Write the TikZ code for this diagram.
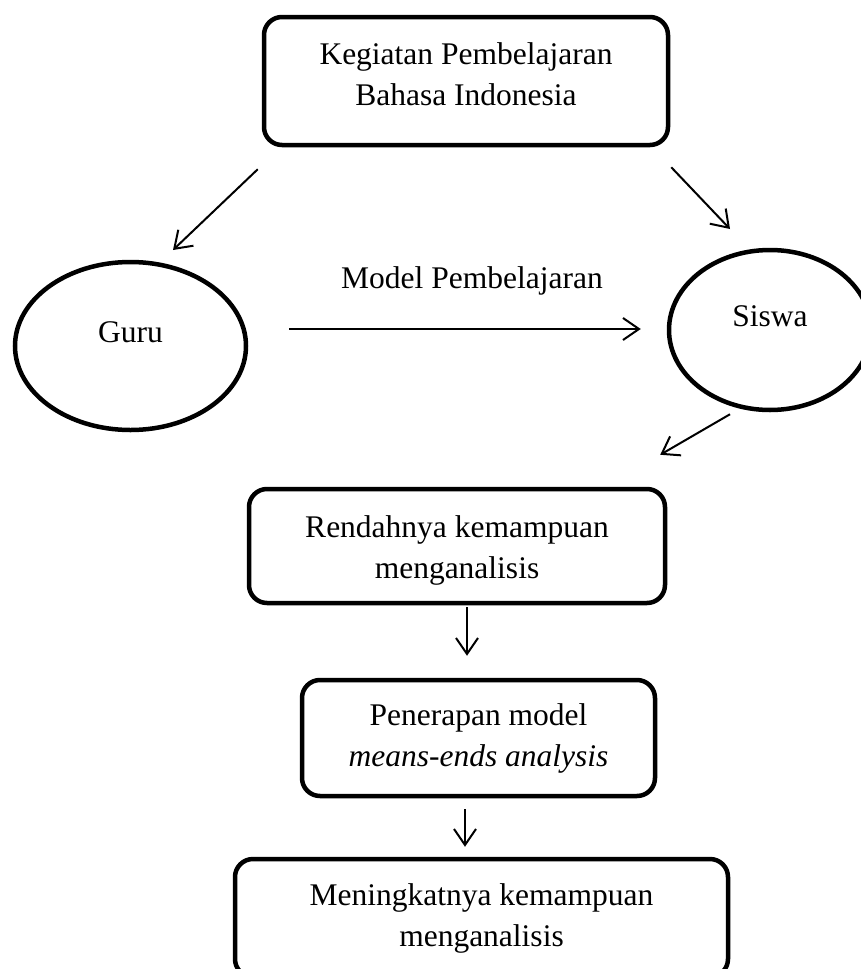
\documentclass[tikz,border=0pt]{standalone}
\usepackage{fontspec}
\setmainfont{Liberation Serif}
\usetikzlibrary{arrows.meta, calc, positioning, shapes.geometric}

\begin{document}
\begin{tikzpicture}[x=1pt,y=-1pt,>={Straight Barb[length=16pt,width=22pt]},
    font=\fontsize{31.5}{41}\selectfont]
  \tikzstyle{box}=[draw,line width=4.5pt,rounded corners=18pt,align=center,inner sep=0pt]
  \tikzstyle{actor}=[draw,ellipse,line width=4.5pt,inner sep=0pt,text depth=28pt]
  \tikzstyle{link}=[->,line width=2pt]

  \useasboundingbox (0,0) rectangle (861,969);

  \node[box,minimum width=404pt,minimum height=128pt]   (keg)     at (466,81)    {Kegiatan Pembelajaran\\Bahasa Indonesia\rule[-14.5pt]{0pt}{0pt}};
  \node[actor,minimum width=231pt,minimum height=168pt] (guru)    at (130.5,346) {Guru};
  \node[actor,minimum width=202pt,minimum height=160pt] (siswa)   at (770,330)   {Siswa};
  \node[box,minimum width=416pt,minimum height=114pt]   (rendah)  at (457,546)   {\rule{0pt}{30pt}Rendahnya kemampuan\\menganalisis};
  \node[box,minimum width=353pt,minimum height=116pt]   (terap)   at (478.5,738) {Penerapan model\\\textit{means-ends analysis}};
  \node[box,minimum width=493pt,minimum height=118pt]   (tingkat) at (481.5,918) {Meningkatnya kemampuan\\menganalisis};

  \draw[link] ($(keg.south west)+(-4,22)$) -- ($(guru.center)+(42.5,-96)$);
  \draw[link] ($(keg.south east)+(1,20)$) -- ($(siswa.center)+(-40,-101)$);
  \draw[link] ($(guru.east)+(41,-17)$) -- node[above=29pt,xshift=7pt] (model) {Model Pembelajaran} ($(siswa.west)+(-26,-1)$);
  \draw[link] ($(siswa.south)+(-40,2)$) -- ($(rendah.north east)+(-7,-32)$);
  \draw[link] ($(rendah.south)+(10,2)$) -- ($(terap.north)+(-11.5,-22)$);
  \draw[link] ($(terap.south)+(-13.5,11)$) -- ($(tingkat.north)+(-16.5,-10)$);
\end{tikzpicture}
\end{document}
